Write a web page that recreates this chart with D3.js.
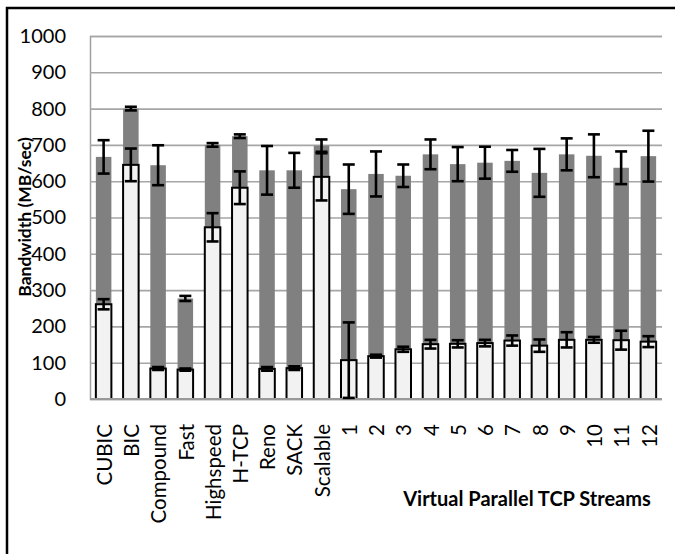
<!DOCTYPE html>
<html>
<head>
<meta charset="utf-8">
<script src="https://cdn.jsdelivr.net/npm/d3@7"></script>
<style>
  body { margin: 0; background: #fff; }
  text { font-family: Lato, "Open Sans", sans-serif; }
</style>
</head>
<body>
<div class="chart"></div>
<script>
let width = 675, height = 554;

let categories = ["CUBIC", "BIC", "Compound", "Fast", "Highspeed", "H-TCP", "Reno", "SACK", "Scalable",
    "1", "2", "3", "4", "5", "6", "7", "8", "9", "10", "11", "12"];

// grey bars (back) and their error
let darkValues = [667, 800, 644, 277, 700, 724, 630, 630, 698, 578, 620, 615, 674, 647, 651, 656, 623, 674, 670, 637, 669];
let darkErrors = [46, 5, 55, 7, 5, 5, 67, 48, 17, 68, 62, 31, 41, 47, 44, 30, 66, 44, 59, 45, 70];

// light bars (front) and their error
let lightValues = [261, 645, 84, 81, 473, 582, 83, 85, 612, 107, 118, 137, 151, 152, 154, 161, 147, 163, 163, 162, 158];
let lightErrors = [14, 45, 4, 3, 39, 45, 5, 5, 65, 104, 4, 7, 12, 10, 9, 14, 17, 21, 8, 26, 15];

let yTicks = [0, 100, 200, 300, 400, 500, 600, 700, 800, 900, 1000];

let margin = {top: 36, bottom: 155, left: 90, right: 13};

let svg = d3.select(".chart").append("svg")
    .attr("width", width)
    .attr("height", height);

// outer frame (runs off the right and bottom)
svg.append("rect")
    .attr("x", 7).attr("y", 8)
    .attr("width", 720).attr("height", 620)
    .attr("fill", "none")
    .attr("stroke", "#000")
    .attr("stroke-width", 2.5);

let x = d3.scaleBand()
    .domain(categories)
    .range([margin.left, width - margin.right])
    .paddingInner(0.43)
    .paddingOuter(0.215);

let y = d3.scaleLinear()
    .domain([0, 1000])
    .range([height - margin.bottom, margin.top]);

// gridlines + y labels
let yAxis = svg.append("g")
    .attr("transform", `translate(${margin.left},0)`)
    .call(d3.axisLeft(y).tickValues(yTicks).tickFormat(d3.format("d"))
        .tickSize(-(width - margin.left - margin.right)).tickPadding(24));
yAxis.select(".domain").attr("stroke", "#a0a0a0").attr("stroke-width", 1.5);
yAxis.selectAll(".tick line").attr("stroke", "#a6a6a6").attr("stroke-width", 1.6);
yAxis.selectAll(".tick text")
    .attr("font-size", 20)
    .attr("fill", "#000")
    .style("font-family", "Lato, sans-serif");

let idx = d3.range(categories.length);

// grey bars
svg.append("g").selectAll("rect")
    .data(idx)
    .join("rect")
    .attr("x", i => x(categories[i]))
    .attr("y", i => y(darkValues[i]))
    .attr("width", x.bandwidth())
    .attr("height", i => y(0) - y(darkValues[i]))
    .attr("fill", "#808080");

// light bars
svg.append("g").selectAll("rect")
    .data(idx)
    .join("rect")
    .attr("x", i => x(categories[i]))
    .attr("y", i => y(lightValues[i]))
    .attr("width", x.bandwidth())
    .attr("height", i => y(0) - y(lightValues[i]))
    .attr("fill", "#f2f2f2")
    .attr("stroke", "#000")
    .attr("stroke-width", 2);

// baseline
svg.append("line")
    .attr("x1", margin.left).attr("x2", width - margin.right)
    .attr("y1", y(0)).attr("y2", y(0))
    .attr("stroke", "#999")
    .attr("stroke-width", 2);

// error bars
function errorBars(values, errors) {
    let g = svg.append("g").attr("stroke", "#000").attr("stroke-width", 2.6);
    let cap = 6;
    idx.forEach(i => {
        let cx = x(categories[i]) + x.bandwidth() / 2;
        let hi = y(values[i] + errors[i]), lo = y(values[i] - errors[i]);
        g.append("line").attr("x1", cx).attr("x2", cx).attr("y1", hi).attr("y2", lo);
        g.append("line").attr("x1", cx - cap).attr("x2", cx + cap).attr("y1", hi).attr("y2", hi);
        g.append("line").attr("x1", cx - cap).attr("x2", cx + cap).attr("y1", lo).attr("y2", lo);
    });
}
errorBars(darkValues, darkErrors);
errorBars(lightValues, lightErrors);

// x labels, rotated
svg.append("g").selectAll("text")
    .data(categories)
    .join("text")
    .attr("transform", d => `translate(${x(d) + x.bandwidth() / 2 + 1},424) rotate(-90)`)
    .attr("text-anchor", "end")
    .attr("dy", "0.35em")
    .attr("font-size", 20.5)
    .text(d => d);

// axis titles
svg.append("text")
    .attr("transform", `translate(31,217) rotate(-90)`)
    .attr("text-anchor", "middle")
    .attr("font-size", 17.5)
    .attr("font-weight", "bold")
    .text("Bandwidth (MB/sec)");

svg.append("text")
    .attr("x", 527).attr("y", 506)
    .attr("text-anchor", "middle")
    .attr("font-size", 20)
    .attr("font-weight", "bold")
    .text("Virtual Parallel TCP Streams");
</script>
</body>
</html>
